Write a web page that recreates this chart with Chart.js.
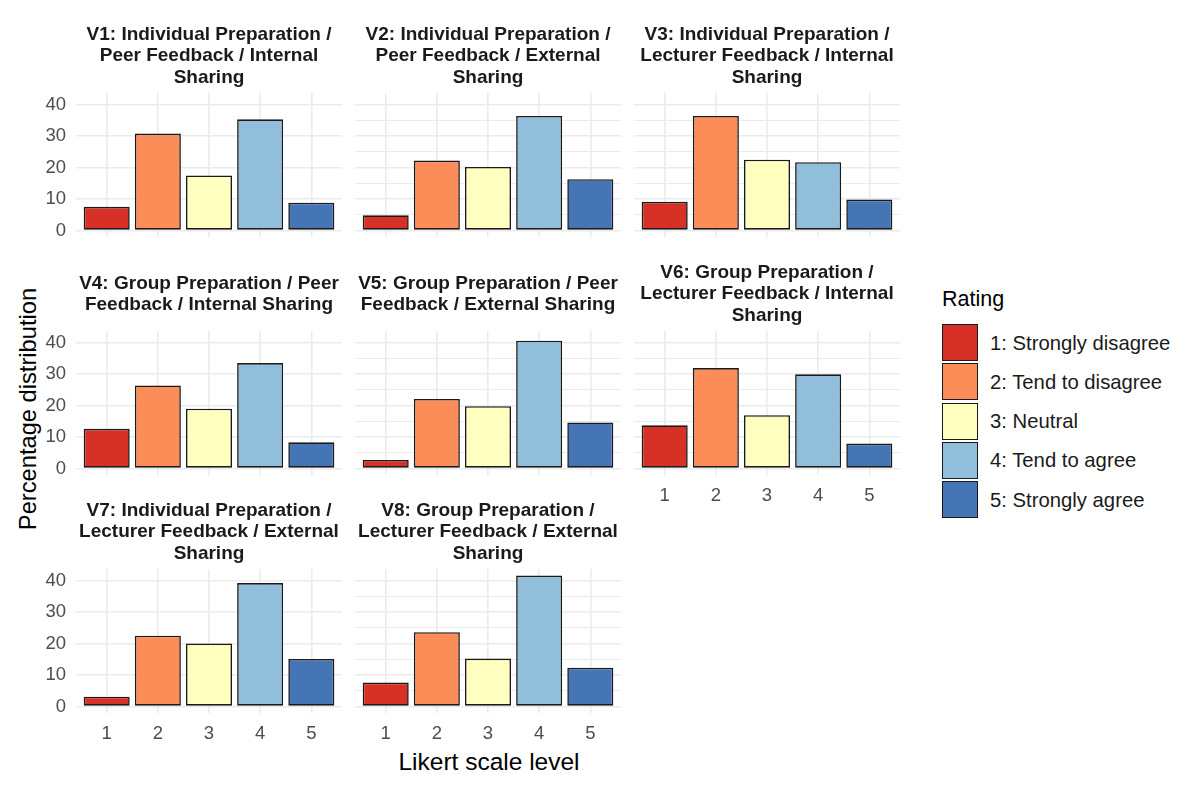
<!DOCTYPE html>
<html>
<head>
<meta charset="utf-8">
<script src="https://cdn.jsdelivr.net/npm/chart.js@4.4.1/dist/chart.umd.min.js"></script>
<style>
  html, body { margin: 0; padding: 0; background: #fff; }
  #wrap { position: relative; width: 1200px; height: 788px; overflow: hidden; font-family: 'Liberation Sans', Arial, sans-serif; }
  canvas { position: absolute; }
  .axis-title { position: absolute; font-size: 24.5px; color: #000; white-space: nowrap; }
  #ytitle { left: 28px; top: 409px; font-size: 23.7px; transform: translate(-50%, -50%) rotate(-90deg); }
  #xtitle { left: 489px; top: 762px; transform: translate(-50%, -50%); }
  #legend-title { position: absolute; left: 942px; top: 287px; font-size: 21.5px; color: #000; }
  .key { position: absolute; left: 942px; width: 36px; height: 37px; box-sizing: border-box; border: 1.6px solid #1a1a1a; }
  .key-label { position: absolute; left: 990px; font-size: 20.3px; color: #1a1a1a; transform: translateY(-50%); white-space: nowrap; }
</style>
</head>
<body>
<div id="wrap">
  <div id="ytitle" class="axis-title">Percentage distribution</div>
  <div id="xtitle" class="axis-title">Likert scale level</div>
  <div id="legend-title">Rating</div>
</div>
<script>
// Likert levels and legend
const categories = ['1', '2', '3', '4', '5'];
const ratingLabels = ['1: Strongly disagree', '2: Tend to disagree', '3: Neutral', '4: Tend to agree', '5: Strongly agree'];
const ratingColors = ['#d73027', '#fc8d59', '#ffffbf', '#91bfdb', '#4575b4'];

// percentage per level, one array per variant
const v1 = [7.5, 30.8, 17.5, 35.3, 8.8];
const v2 = [4.8, 22.2, 20.2, 36.4, 16.3];
const v3 = [9.1, 36.4, 22.5, 21.7, 9.8];
const v4 = [12.6, 26.4, 19.0, 33.5, 8.3];
const v5 = [2.7, 22.1, 19.8, 40.6, 14.6];
const v6 = [13.7, 31.9, 16.9, 29.9, 7.9];
const v7 = [3.1, 22.5, 20.0, 39.2, 15.1];
const v8 = [7.6, 23.6, 15.2, 41.6, 12.3];

const panelTitles = [
  ['V1: Individual Preparation /', 'Peer Feedback / Internal', 'Sharing'],
  ['V2: Individual Preparation /', 'Peer Feedback / External', 'Sharing'],
  ['V3: Individual Preparation /', 'Lecturer Feedback / Internal', 'Sharing'],
  ['V4: Group Preparation / Peer', 'Feedback / Internal Sharing'],
  ['V5: Group Preparation / Peer', 'Feedback / External Sharing'],
  ['V6: Group Preparation /', 'Lecturer Feedback / Internal', 'Sharing'],
  ['V7: Individual Preparation /', 'Lecturer Feedback / External', 'Sharing'],
  ['V8: Group Preparation /', 'Lecturer Feedback / External', 'Sharing']
];
const yTicks = [0, 5, 10, 15, 20, 25, 30, 35, 40];
const yLabelled = [0, 10, 20, 30, 40];

const series = [v1, v2, v3, v4, v5, v6, v7, v8];

// facet geometry (px)
const colLeft = [76, 355, 634];
const rowTop = [93, 331, 569];
const PW = 266, PH = 144, AXW = 60, STRIPH = 72, XAXH = 40, RPAD = 4;
const grid = '#ebebeb';

Chart.defaults.font.family = "'Liberation Sans', Arial, sans-serif";
Chart.defaults.animation = false;

const wrap = document.getElementById('wrap');

series.forEach(function (vals, i) {
  const row = Math.floor(i / 3), col = i % 3;
  // x labels only where nothing sits below the panel
  const showX = row === 2 || i === 5;
  const showY = col === 0;
  const lineH = 19 * 1.15;
  const extra = (3 - panelTitles[i].length) * lineH / 2;

  const cv = document.createElement('canvas');
  const w = AXW + PW + RPAD, h = STRIPH + PH + XAXH;
  cv.width = w; cv.height = h;
  cv.style.width = w + 'px'; cv.style.height = h + 'px';
  cv.style.left = (colLeft[col] - AXW) + 'px';
  cv.style.top = (rowTop[row] - STRIPH) + 'px';
  wrap.appendChild(cv);

  new Chart(cv, {
    type: 'bar',
    data: {
      datasets: [{
        data: vals.map(function (v, k) { return { x: k + 1, y: v }; }),
        backgroundColor: ratingColors,
        borderColor: '#1a1a1a',
        borderWidth: 1.6,
        borderSkipped: false,
        barPercentage: 0.9,
        categoryPercentage: 1.0
      }]
    },
    options: {
      responsive: false,
      layout: { padding: { left: 0, right: RPAD, top: 0, bottom: 0 } },
      plugins: {
        legend: { display: false },
        tooltip: { enabled: false },
        title: {
          display: true,
          text: panelTitles[i],
          fullSize: false,
          color: '#1a1a1a',
          font: { size: 19, weight: 'bold', lineHeight: 1.15 },
          padding: { top: 72 - 3 * lineH - 4 + extra, bottom: 4 + extra }
        }
      },
      scales: {
        x: {
          type: 'linear',
          min: 0.4, max: 5.6,
          offset: false,
          afterBuildTicks: function (s) { s.ticks = categories.map(function (c, k) { return { value: k + 1 }; }); },
          afterFit: function (s) { s.height = XAXH; },
          border: { display: false },
          grid: { color: grid, lineWidth: 1.6, drawTicks: false, offset: false },
          ticks: {
            display: showX,
            color: '#4d4d4d',
            font: { size: 18.5 },
            padding: 10,
            callback: function (v) { return categories[v - 1]; }
          }
        },
        y: {
          min: -2.08, max: 43.68,
          afterBuildTicks: function (s) { s.ticks = yTicks.map(function (v) { return { value: v }; }); },
          afterFit: function (s) { s.width = AXW; },
          border: { display: false },
          grid: {
            color: grid,
            drawTicks: false,
            lineWidth: function (c) { return yLabelled.indexOf(c.tick.value) >= 0 ? 1.6 : 1.0; }
          },
          ticks: {
            display: showY,
            color: '#4d4d4d',
            font: { size: 18.5 },
            padding: 10,
            callback: function (v) { return yLabelled.indexOf(v) >= 0 ? String(v) : ''; }
          }
        }
      }
    }
  });
});

// legend keys
const keyTop = 324, keyPitch = 39.3;
ratingLabels.forEach(function (lab, k) {
  const key = document.createElement('div');
  key.className = 'key';
  key.style.top = (keyTop + k * keyPitch) + 'px';
  key.style.background = ratingColors[k];
  wrap.appendChild(key);
  const t = document.createElement('div');
  t.className = 'key-label';
  t.textContent = lab;
  t.style.top = (keyTop + k * keyPitch + 18.5) + 'px';
  wrap.appendChild(t);
});
</script>
</body>
</html>
